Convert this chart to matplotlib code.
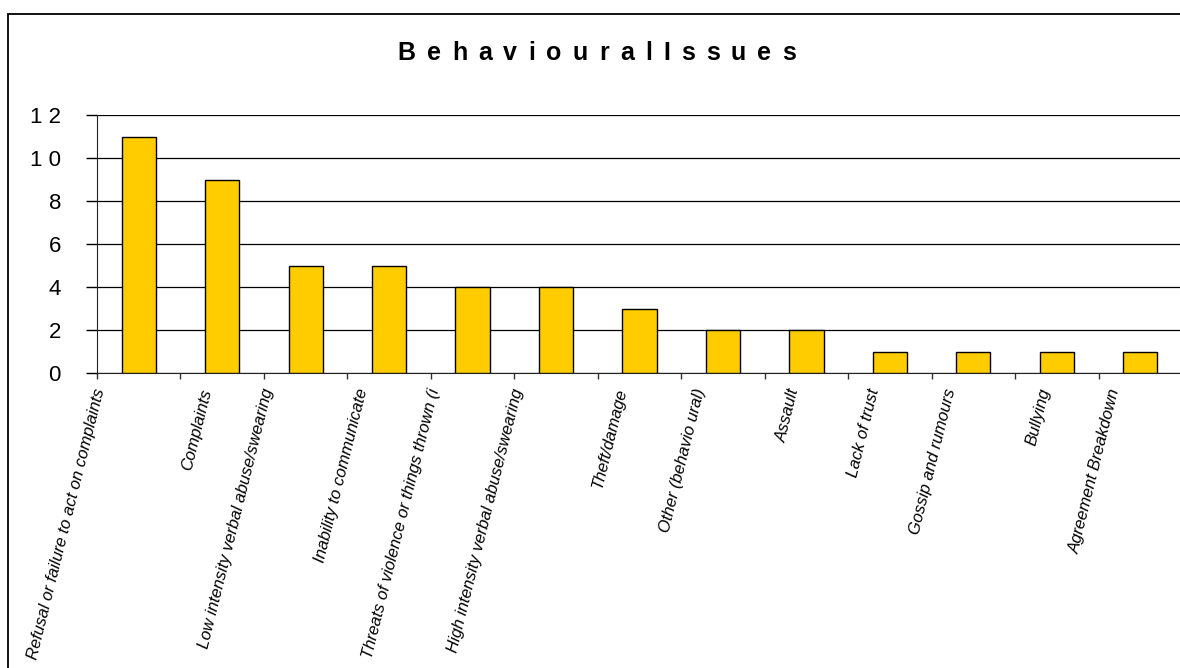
import numpy as np
import matplotlib
matplotlib.use("Agg")
import matplotlib.pyplot as plt
from matplotlib.patches import Rectangle
from matplotlib.ticker import FuncFormatter
from matplotlib.font_manager import FontProperties

# ── Data ─────────────────────────────────────────────────────────────────────
categories = [
    "Refusal or failure to act on complaints",
    "Complaints",
    "Low intensity verbal abuse/swearing",
    "Inability to communicate",
    "Threats of violence or things thrown (i",
    "High intensity verbal abuse/swearing",
    "Theft/damage",
    "Other (behavio ural)",
    "Assault",
    "Lack of trust",
    "Gossip and rumours",
    "Bullying",
    "Agreement Breakdown",
]
counts = [11, 9, 5, 5, 4, 4, 3, 2, 2, 1, 1, 1, 1]
y_ticks = [0, 2, 4, 6, 8, 10, 12]
title = "Behavioural Issues"
# ─────────────────────────────────────────────────────────────────────────────

W, H, DPI = 1180, 668, 100
plt.rcParams["font.family"] = ["Liberation Sans", "DejaVu Sans"]

fig = plt.figure(figsize=(W / DPI, H / DPI), dpi=DPI)
fig.patch.set_facecolor("white")
renderer = fig.canvas.get_renderer()

# outer chart frame (runs off the right and bottom edges)
fig.patches.append(
    Rectangle((8 / W, -0.05), 1.1, 1 - 14 / H + 0.05, transform=fig.transFigure,
              fill=False, edgecolor="black", linewidth=1.3, zorder=0)
)

left, right, top, bottom = 97, 1182, 115, 373
ax = fig.add_axes([left / W, 1 - bottom / H, (right - left) / W, (bottom - top) / H])

x = np.arange(len(categories))
ax.bar(x, counts, width=0.41, color="#FFCC00", edgecolor="black", linewidth=1.0, zorder=3)

ax.set_xlim(-0.5, len(categories) - 0.5)
ax.set_ylim(0, 12)
ax.set_yticks(y_ticks)
ax.yaxis.set_major_formatter(FuncFormatter(lambda v, p: " ".join(str(int(v)))))
ax.tick_params(axis="y", length=8, width=1, pad=18, labelsize=16, color="black")
ax.grid(axis="y", color="black", linewidth=0.9, zorder=1)

# category boundaries carry the tick marks
ax.set_xticks(np.arange(len(categories)) - 0.5)
ax.set_xticklabels([])
ax.tick_params(axis="x", length=4, width=1, color="#333333")

for side in ["top", "right"]:
    ax.spines[side].set_visible(False)
ax.spines["left"].set_color("#222222")
ax.spines["bottom"].set_color("#222222")

# rotated category labels, hung from their upper end below the axis
angle = 76
for i, label in enumerate(categories):
    t = ax.annotate(
        label, xy=(i, 0), xycoords=("data", "axes fraction"),
        xytext=(0, -14), textcoords="offset pixels",
        rotation=0, rotation_mode="anchor", ha="right", va="top",
        fontsize=12, fontstyle="italic", annotation_clip=False,
    )
    length = t.get_window_extent(renderer).width
    t.set_rotation(angle)
    t.xyann = (-12 - 0.12 * length, -14)

# letter-spaced title, one glyph per text, right edges taken from the
# running width of the spaced string
sep = " \u2006"
spaced = sep.join(c for c in title if c != " ")
fp = FontProperties(family=["Liberation Sans", "DejaVu Sans"], size=18, weight="bold")


def text_width(s):
    w, _, _ = renderer.get_text_width_height_descent(s, fp, ismath=False)
    return w


total = text_width(spaced)
x0 = 597 - total / 2
for k, c in enumerate(spaced):
    if c.isspace():
        continue
    x_right = x0 + text_width(spaced[: k + 1])
    fig.text(x_right / W, 1 - 53 / H, c, ha="right", va="center", fontproperties=fp)

fig.savefig("out.png", dpi=DPI)
